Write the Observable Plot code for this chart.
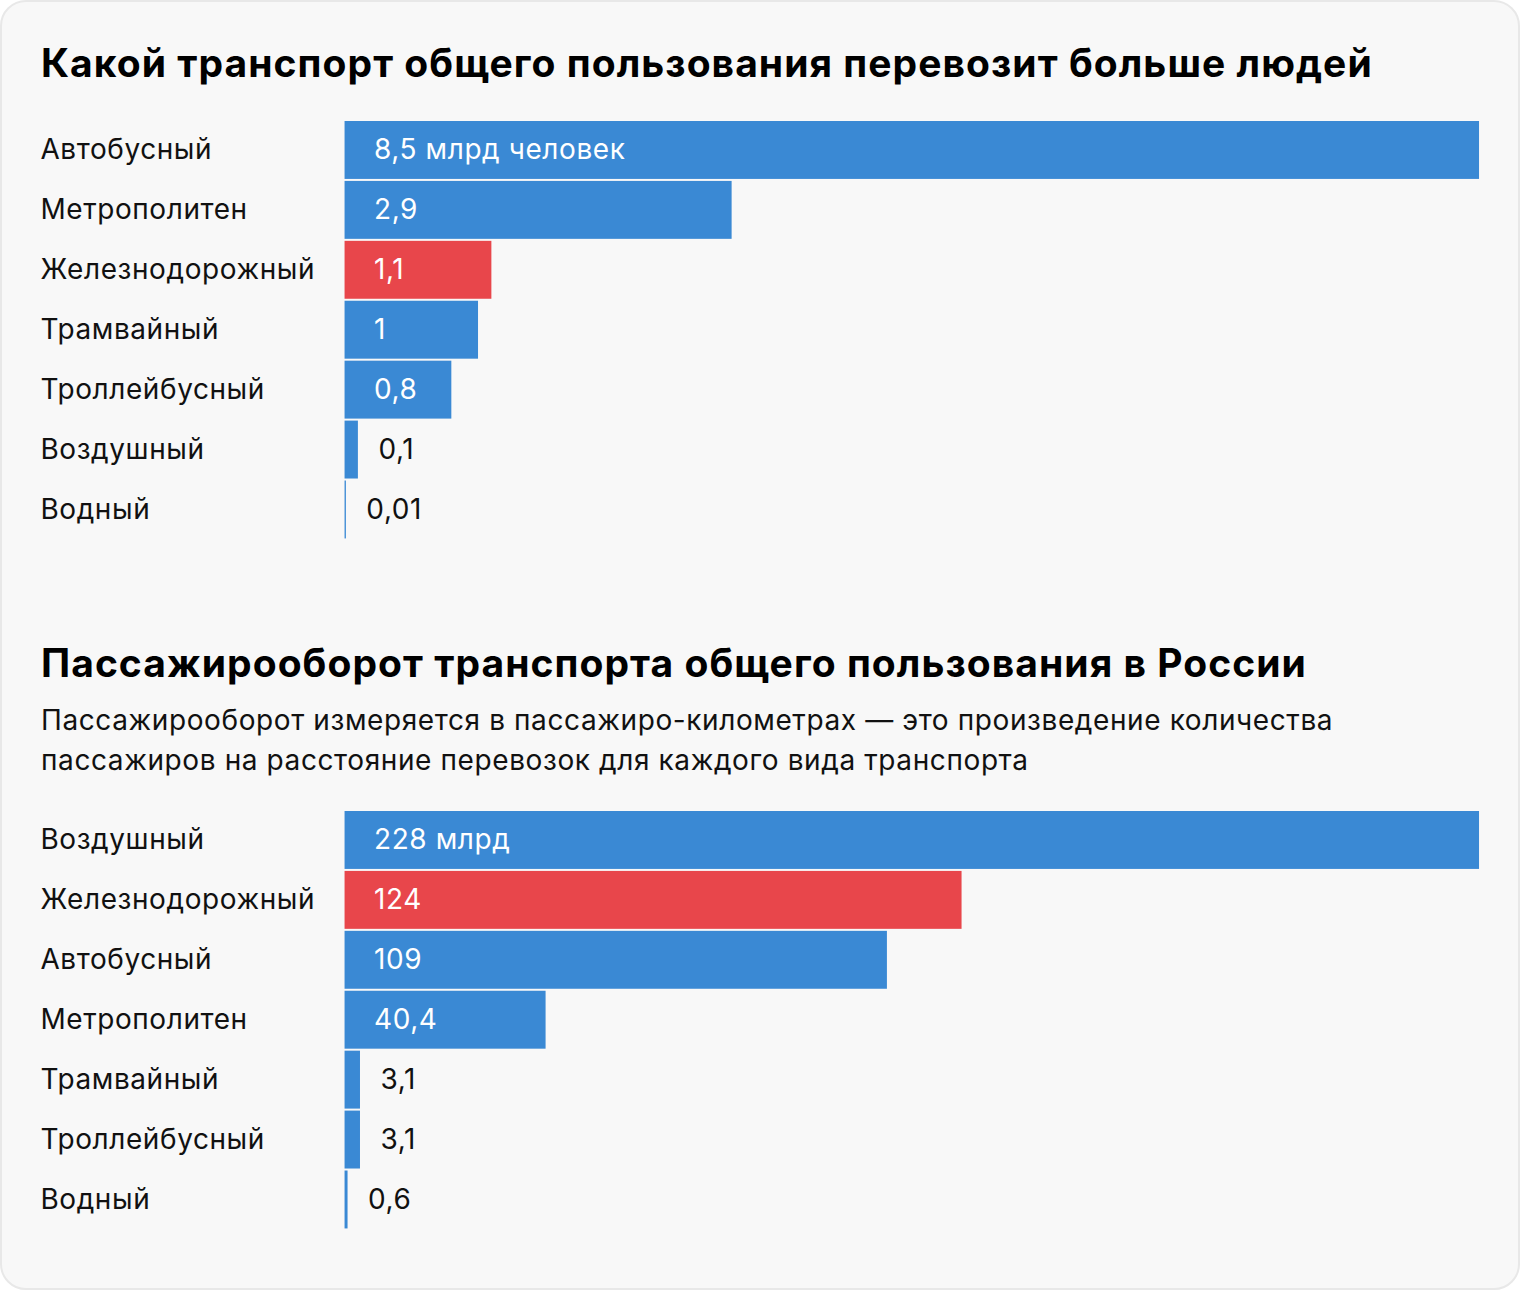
<!DOCTYPE html>
<html>
<head>
<meta charset="utf-8">
<script src="https://cdn.jsdelivr.net/npm/d3@7"></script>
<script src="https://cdn.jsdelivr.net/npm/@observablehq/plot@0.6"></script>
<style>
  html, body { margin: 0; padding: 0; background: #ffffff; }
  body { width: 1520px; height: 1290px; font-family: Inter, "Noto Sans", sans-serif; }
  .card {
    position: relative; box-sizing: border-box; width: 1520px; height: 1290px;
    background: #f8f8f8; border: 2px solid #e8e8e8; border-radius: 26px; overflow: hidden;
  }
  .title { position: absolute; left: 39px; font-size: 39px; font-weight: 700; color: #000; line-height: 46px; letter-spacing: 1.05px; white-space: nowrap; }
  .sub { position: absolute; left: 39px; font-size: 28px; color: #111; line-height: 40px; letter-spacing: 0.6px; white-space: nowrap; }
  .chart { position: absolute; left: -2px; }
  .chart svg { display: block; background: transparent; }
</style>
</head>
<body>
<div class="card">
  <div class="title" id="t1" style="top: 38px;">Какой транспорт общего пользования перевозит больше людей</div>
  <div id="c1" class="chart" style="top: 118px;"></div>
  <div class="title" id="t2" style="top: 638px;">Пассажирооборот транспорта общего пользования в России</div>
  <div class="sub" style="top: 698px;">Пассажирооборот измеряется в пассажиро-километрах — это произведение количества<br>пассажиров на расстояние перевозок для каждого вида транспорта</div>
  <div id="c2" class="chart" style="top: 808px;"></div>
</div>
<script>
// Chart 1: passengers carried, billion people
const names1 = ["Автобусный", "Метрополитен", "Железнодорожный", "Трамвайный", "Троллейбусный", "Воздушный", "Водный"];
const values1 = [8.5, 2.9, 1.1, 1, 0.8, 0.1, 0.01];
const labels1 = ["8,5 млрд человек", "2,9", "1,1", "1", "0,8", "0,1", "0,01"];

// Chart 2: passenger turnover, billion passenger-km
const names2 = ["Воздушный", "Железнодорожный", "Автобусный", "Метрополитен", "Трамвайный", "Троллейбусный", "Водный"];
const values2 = [228, 124, 109, 40.4, 3.1, 3.1, 0.6];
const labels2 = ["228 млрд", "124", "109", "40,4", "3,1", "3,1", "0,6"];

const highlight = "Железнодорожный";
const BLUE = "#3a89d4";
const RED = "#e8464b";

function makeChart(names, values, labels) {
  const data = names.map((n, i) => ({name: n, value: values[i], label: labels[i]}));
  const max = d3.max(values);
  const inside = d => d.value / max > 0.05;
  return Plot.plot({
    width: 1520,
    height: 420,
    marginLeft: 345,
    marginRight: 39,
    marginTop: 0,
    marginBottom: 0,
    style: {fontFamily: "Inter, 'Noto Sans', sans-serif", background: "transparent", letterSpacing: "0.6px"},
    x: {domain: [0, max], axis: null},
    y: {domain: names, padding: 0, label: null},
    marks: [
      Plot.barX(data, {
        y: "name", x: "value",
        fill: d => d.name === highlight ? RED : BLUE,
        insetTop: 1, insetBottom: 1
      }),
      Plot.axisY({
        tickSize: 0, tickPadding: 0, textAnchor: "start", dx: -305,
        fontSize: 28, fill: "#111", label: null
      }),
      Plot.text(data.filter(inside), {
        y: "name", x: 0, text: "label", textAnchor: "start", dx: 29,
        fill: "white", fontSize: 28
      }),
      Plot.text(data.filter(d => !inside(d)), {
        y: "name", x: "value", text: "label", textAnchor: "start", dx: 20,
        fill: "#111", fontSize: 28
      })
    ]
  });
}

document.getElementById("c1").appendChild(makeChart(names1, values1, labels1));
document.getElementById("c2").appendChild(makeChart(names2, values2, labels2));
</script>
</body>
</html>
